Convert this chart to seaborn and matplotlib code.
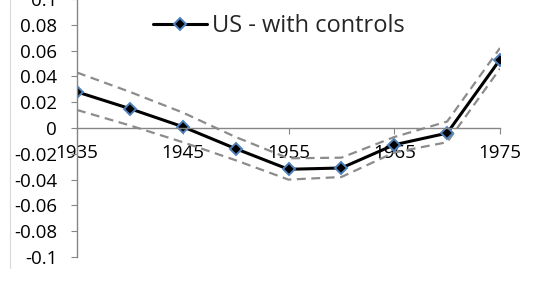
import pandas as pd
import matplotlib.pyplot as plt
import seaborn as sns
from matplotlib.lines import Line2D

# datos
years = [1935, 1940, 1945, 1950, 1955, 1960, 1965, 1970, 1975]
coef = [0.028, 0.015, 0.001, -0.016, -0.032, -0.031, -0.013, -0.004, 0.053]
upper = [0.043, 0.028, 0.012, -0.007, -0.0235, -0.023, -0.007, 0.005, 0.062]
lower = [0.014, 0.002, -0.011, -0.025, -0.040, -0.038, -0.019, -0.011, 0.046]
xtick_labels = ['1935', '1945', '1955', '1965', '1975']
ytick_vals = [-0.1, -0.08, -0.06, -0.04, -0.02, 0, 0.02, 0.04, 0.06, 0.08, 0.1]
ytick_labels = ['-0.1', '-0.08', '-0.06', '-0.04', '-0.02', '0', '0.02', '0.04', '0.06', '0.08', '0.1']

df = pd.DataFrame({'year': years, 'coef': coef, 'upper': upper, 'lower': lower})

sns.set_style('white')
plt.rcParams['font.family'] = ['Open Sans', 'DejaVu Sans']

fig = plt.figure(figsize=(5.34, 2.93), dpi=100)
ax = fig.add_axes([77 / 534, 1 - 257 / 293, (500 - 77) / 534, 258 / 293])

# bandas de confianza
sns.lineplot(data=df, x='year', y='upper', ax=ax, color='#8c8c8c', lw=1.6,
             linestyle=(0, (4, 2.5)), legend=False)
sns.lineplot(data=df, x='year', y='lower', ax=ax, color='#8c8c8c', lw=1.6,
             linestyle=(0, (4, 2.5)), legend=False)
# serie principal
sns.lineplot(data=df, x='year', y='coef', ax=ax, color='black', lw=2.2,
             marker='D', markersize=6.5, markerfacecolor='black',
             markeredgecolor='#4f81bd', markeredgewidth=1.4, label='US - with controls')

ax.set_xlim(1935, 1975)
ax.set_ylim(-0.1, 0.1)
ax.set_xlabel('')
ax.set_ylabel('')

ax.spines['top'].set_visible(False)
ax.spines['right'].set_visible(False)
ax.spines['bottom'].set_position(('data', 0))
ax.spines['bottom'].set_color('#868686')
ax.spines['left'].set_color('#868686')
ax.spines['bottom'].set_linewidth(1.0)
ax.spines['left'].set_linewidth(1.0)

ax.set_xticks([1935, 1945, 1955, 1965, 1975])
ax.set_xticklabels(xtick_labels)
ax.set_yticks(ytick_vals)
ax.set_yticklabels(ytick_labels)
ax.tick_params(axis='x', direction='out', length=4.3, color='#868686', pad=7,
               labelsize=13.5, labelcolor='black', bottom=True)
ax.tick_params(axis='y', direction='out', length=4.3, color='#868686', pad=10,
               labelsize=13.5, labelcolor='black', left=True)

leg = ax.legend(loc='center left', bbox_to_anchor=(153 / 534, 1 - 26 / 293),
                bbox_transform=fig.transFigure, frameon=False, fontsize=17,
                handlelength=2.3, handletextpad=0.2, borderpad=0, borderaxespad=0)

# borde del area del grafico
fig.add_artist(Line2D([10 / 534, 10 / 534], [1, 1 - 268 / 293],
                      transform=fig.transFigure, color='#d9d9d9', lw=0.8))

fig.savefig('out.png', dpi=100)
